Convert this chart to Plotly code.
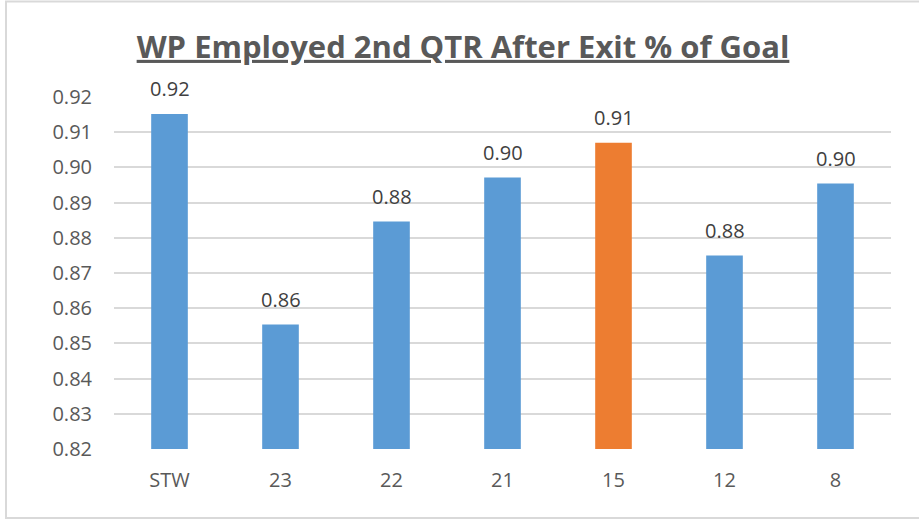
import plotly.graph_objects as go

categories = ["STW", "23", "22", "21", "15", "12", "8"]
values = [0.9152, 0.8554, 0.8846, 0.8971, 0.9070, 0.8750, 0.8954]
labels = ["0.92", "0.86", "0.88", "0.90", "0.91", "0.88", "0.90"]
bar_colors = ["#5B9BD5", "#5B9BD5", "#5B9BD5", "#5B9BD5", "#ED7D31", "#5B9BD5", "#5B9BD5"]
y_ticks = [0.82, 0.83, 0.84, 0.85, 0.86, 0.87, 0.88, 0.89, 0.90, 0.91, 0.92]

W, H = 919, 521
ml, mr, mt, mb = 114, 28, 97, 72
pw, ph = W - ml - mr, H - mt - mb
FONT = "Open Sans"

fig = go.Figure(go.Bar(
    x=categories, y=values,
    marker=dict(color=bar_colors, line=dict(width=0)),
    width=0.33, hoverinfo="skip",
))

# category axis: annotation x given as the category index
for i, (v, t) in enumerate(zip(values, labels)):
    fig.add_annotation(x=i, y=v, xref="x", yref="y", text=t, showarrow=False,
                       yanchor="middle", yshift=25,
                       font=dict(family=FONT, size=20, color="#404040"))

fig.update_layout(
    width=W, height=H,
    margin=dict(l=ml, r=mr, t=mt, b=mb, autoexpand=False),
    paper_bgcolor="white", plot_bgcolor="white",
    showlegend=False,
    title=dict(text="<b><u>WP Employed 2nd QTR After Exit % of Goal</u></b>",
               x=463 / W, xanchor="center", y=1 - 47 / H, yanchor="middle",
               font=dict(family=FONT, size=31, color="#595959")),
    xaxis=dict(type="category", categoryorder="array", categoryarray=categories,
               range=[-0.5, len(categories) - 0.5], automargin=False,
               showline=False, ticks="", tickangle=0,
               tickfont=dict(family=FONT, size=20, color="#595959"),
               showgrid=False, ticklabelstandoff=17),
    yaxis=dict(range=[0.82, 0.92], tickvals=y_ticks, ticktext=[f"{v:.2f}" for v in y_ticks],
               showgrid=True, gridcolor="#D9D9D9", gridwidth=1.5, zeroline=False,
               automargin=False,
               tickfont=dict(family=FONT, size=20, color="#595959"), ticks="",
               ticklabelstandoff=21),
    shapes=[dict(type="rect", xref="paper", yref="paper",
                 x0=(6 - ml) / pw, x1=(W + 10 - ml) / pw,
                 y0=(H - mb - 518) / ph, y1=(H - mb - 1.5) / ph,
                 line=dict(color="#D9D9D9", width=2), layer="below")],
)

fig.write_html("out.html", config={"displayModeBar": False},
               post_script="document.body.style.margin='0';document.body.style.overflow='hidden';")
